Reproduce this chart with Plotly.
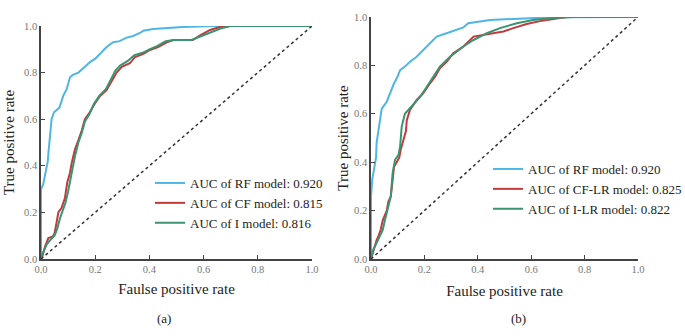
import plotly.graph_objects as go

# ---------------- data ----------------
# Panel (a)
a_rf_fpr = [0, 0, .008, .017, .025, .027, .033, .039, .048, .068, .082, .095, .107, .117, .138, .156,
            .181, .2, .218, .242, .266, .29, .316, .34, .365, .378, .414, .524, .635, 1.0]
a_rf_tpr = [0, .30, .32, .37, .42, .45, .52, .60, .63, .65, .70, .73, .78, .79, .80, .82,
            .845, .86, .88, .91, .93, .935, .95, .957, .97, .98, .987, .996, 1.0, 1.0]

a_cf_fpr = [0, .005, .015, .027, .043, .05, .058, .064, .076, .088, .097, .107, .113, .125, .138, .15,
            .162, .18, .2, .218, .242, .26, .279, .298, .328, .347, .378, .402, .432, .464, .488,
            .56, .587, .624, .66, .697, 1.0]
a_cf_tpr = [0, .01, .053, .09, .096, .11, .16, .20, .22, .26, .33, .37, .41, .47, .51, .55,
            .60, .63, .67, .70, .725, .76, .80, .825, .84, .867, .88, .897, .91, .93, .94,
            .94, .96, .983, .996, 1.0, 1.0]

a_i_fpr = [0, .008, .02, .033, .05, .06, .07, .08, .09, .10, .108, .115, .125, .138, .15, .162, .178,
           .195, .215, .24, .258, .275, .292, .32, .345, .375, .40, .43, .46, .49, .555, .59, .63,
           .665, .70, 1.0]
a_i_tpr = [0, .03, .06, .08, .10, .13, .175, .21, .24, .29, .34, .39, .44, .50, .54, .59, .62,
           .665, .70, .73, .77, .81, .83, .85, .875, .885, .90, .915, .935, .94, .94, .955, .975,
           .99, 1.0, 1.0]

# Panel (b)
b_rf_fpr = [0, 0, .005, .015, .019, .021, .024, .027, .034, .04, .059, .071, .084, .099, .109, .127,
            .146, .171, .196, .221, .246, .283, .321, .346, .364, .408, .446, .532, .682, 1.0]
b_rf_tpr = [0, .26, .33, .40, .42, .48, .505, .53, .59, .62, .65, .685, .72, .753, .78, .795,
            .815, .836, .864, .891, .919, .933, .946, .957, .974, .98, .988, .992, .999, 1.0]

b_cflr_fpr = [0, .009, .021, .027, .036, .044, .059, .065, .074, .081, .086, .096, .106, .111, .121,
              .131, .134, .146, .171, .196, .221, .24, .258, .283, .308, .346, .384, .421, .458,
              .496, .533, .583, .633, .682, .733, 1.0]
b_cflr_tpr = [0, .037, .078, .092, .12, .16, .20, .237, .258, .326, .38, .40, .42, .45, .49,
              .53, .574, .616, .657, .685, .726, .753, .788, .815, .85, .878, .919, .926, .933,
              .94, .954, .971, .983, .99, 1.0, 1.0]

b_ilr_fpr = [0, .009, .027, .044, .052, .065, .074, .081, .09, .103, .109, .112, .115, .127, .152,
             .184, .209, .234, .258, .296, .346, .384, .434, .483, .546, .607, .682, .757, 1.0]
b_ilr_tpr = [0, .04, .08, .12, .16, .216, .258, .355, .41, .43, .464, .505, .547, .60, .63,
             .67, .712, .753, .795, .836, .878, .905, .933, .954, .974, .988, .996, 1.0, 1.0]

diag = [0, 1]
tick_vals = [0, 0.2, 0.4, 0.6, 0.8, 1.0]
tick_text = ["0.0", "0.2", "0.4", "0.6", "0.8", "1.0"]

names_a = ["AUC of RF model: 0.920", "AUC of CF model: 0.815", "AUC of I model: 0.816"]
names_b = ["AUC of RF model: 0.920", "AUC of CF-LR model: 0.825", "AUC of I-LR model: 0.822"]
panel_labels = ["(a)", "(b)"]

# ---------------- styling ----------------
BLUE = "#4fb6e3"
RED = "#c23a3c"
GREEN = "#3a9371"
SERIF = "Liberation Serif, Times New Roman, serif"
W, H = 685, 336

def px_x(p):
    return p / W

def px_y(p):
    return (H - p) / H

fig = go.Figure()

def add_panel(xa, ya, legend, series):
    for (fx, ty, name, color) in series:
        fig.add_trace(go.Scatter(x=fx, y=ty, mode="lines", name=name,
                                 line=dict(color=color, width=2),
                                 xaxis=xa, yaxis=ya, legend=legend, cliponaxis=False))
    fig.add_trace(go.Scatter(x=diag, y=diag, mode="lines", showlegend=False,
                             line=dict(color="#333333", width=1.5, dash="dot"),
                             xaxis=xa, yaxis=ya, hoverinfo="skip"))

add_panel("x", "y", "legend", [
    (a_rf_fpr, a_rf_tpr, names_a[0], BLUE),
    (a_cf_fpr, a_cf_tpr, names_a[1], RED),
    (a_i_fpr, a_i_tpr, names_a[2], GREEN),
])
add_panel("x2", "y2", "legend2", [
    (b_rf_fpr, b_rf_tpr, names_b[0], BLUE),
    (b_cflr_fpr, b_cflr_tpr, names_b[1], RED),
    (b_ilr_fpr, b_ilr_tpr, names_b[2], GREEN),
])

axis_common = dict(range=[0, 1], tickvals=tick_vals, ticktext=tick_text, ticks="inside",
                   ticklen=4, tickwidth=1.2, tickcolor="#444", showline=True, linecolor="#444",
                   linewidth=1.5, showgrid=False, zeroline=False, mirror=False, automargin=False,
                   tickfont=dict(family=SERIF, size=10.5, color="#777"))
title_font = dict(family=SERIF, size=15, color="#222")

fig.update_layout(
    width=W, height=H, margin=dict(l=0, r=0, t=0, b=0, autoexpand=False),
    paper_bgcolor="white", plot_bgcolor="white",
    xaxis=dict(domain=[px_x(41), px_x(312)], anchor="y",
               title=dict(text="Faulse positive rate", font=title_font, standoff=9),
               **axis_common),
    yaxis=dict(domain=[px_y(259), px_y(26)], anchor="x",
               title=dict(text="True positive rate", font=title_font, standoff=6),
               **axis_common),
    xaxis2=dict(domain=[px_x(371), px_x(638)], anchor="y2",
                title=dict(text="Faulse positive rate", font=title_font, standoff=11),
                **axis_common),
    yaxis2=dict(domain=[px_y(259), px_y(17)], anchor="x2",
                title=dict(text="True positive rate", font=title_font, standoff=2),
                **axis_common),
    legend=dict(x=px_x(150), y=px_y(168), xanchor="left", yanchor="top", tracegroupgap=0,
                font=dict(family=SERIF, size=13, color="#222"), bgcolor="rgba(0,0,0,0)"),
    legend2=dict(x=px_x(488), y=px_y(154), xanchor="left", yanchor="top", tracegroupgap=0,
                 font=dict(family=SERIF, size=13, color="#222"), bgcolor="rgba(0,0,0,0)"),
    annotations=[
        dict(text=panel_labels[0], x=px_x(155), y=px_y(328), xref="paper", yref="paper",
             showarrow=False, font=dict(family=SERIF, size=13, color="#222")),
        dict(text=panel_labels[1], x=px_x(528), y=px_y(328), xref="paper", yref="paper",
             showarrow=False, font=dict(family=SERIF, size=13, color="#222")),
    ],
)

fig.write_html("out.html", config={"displayModeBar": False},
               post_script="document.body.style.margin='0';")
